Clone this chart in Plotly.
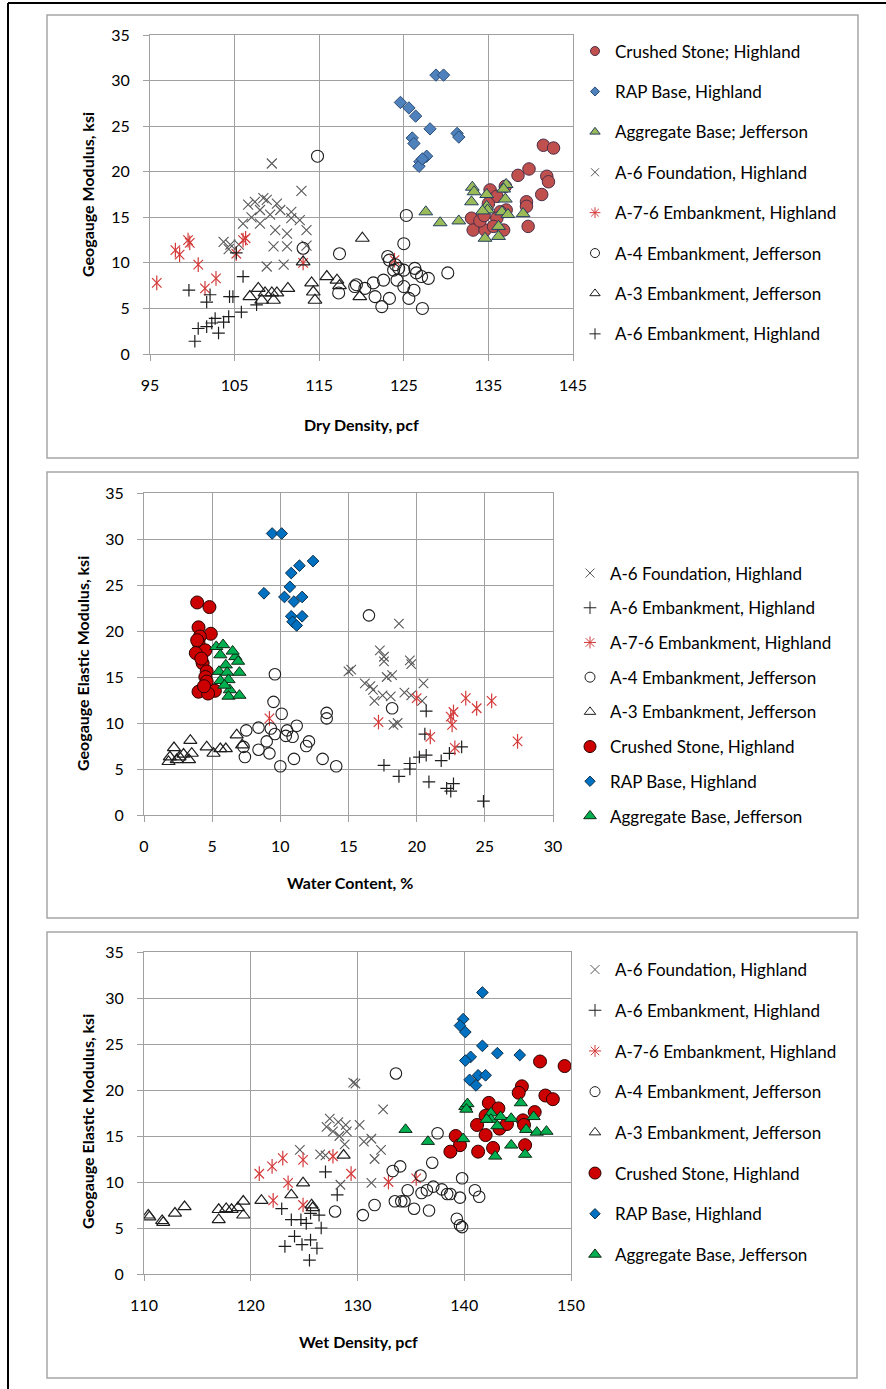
import plotly.graph_objects as go

W, H = 886, 1389
FONT = "Lato"

def fx(px):
    return px / W

def fy(py):
    return 1 - py / H

# ---------------- Panel 1 : Dry Density ----------------
cs1_x = [141.5, 142.7, 138.5, 139.8, 141.9, 142.1, 141.3, 135.2, 137.0, 136.0, 139.5, 139.5, 137.1, 136.4, 133.0, 136.0, 133.2, 134.6, 135.6, 136.8, 139.7, 134.0, 135.0, 134.5]
cs1_y = [22.9, 22.6, 19.6, 20.3, 19.5, 18.9, 17.5, 18.0, 18.4, 17.3, 16.7, 16.2, 15.8, 15.6, 14.9, 14.9, 13.6, 13.6, 14.0, 13.6, 14.0, 14.6, 16.5, 15.2]
rap1_x = [128.8, 129.7, 124.6, 125.6, 126.4, 128.1, 131.3, 131.5, 126.0, 126.2, 127.7, 126.9, 126.8, 127.2]
rap1_y = [30.6, 30.6, 27.6, 27.0, 26.1, 24.7, 24.2, 23.8, 23.7, 23.1, 21.7, 21.1, 20.6, 21.4]
agg1_x = [127.6, 129.3, 131.5, 133.1, 133.3, 133.0, 134.8, 134.8, 134.9, 137.1, 137.0, 136.6, 137.3, 139.1, 136.2, 136.2, 134.6, 134.3, 136.8]
agg1_y = [15.6, 14.4, 14.6, 18.3, 17.8, 16.7, 17.5, 16.2, 15.8, 18.6, 17.0, 15.6, 15.3, 15.4, 14.0, 12.9, 12.7, 15.7, 18.1]
a6f1_x = [109.4, 112.9, 106.6, 107.4, 108.4, 108.8, 108.0, 109.2, 110.4, 111.7, 111.7, 112.7, 113.5, 106.0, 108.0, 109.8, 111.2, 103.7, 104.5, 105.5, 109.6, 111.2, 108.8, 110.8, 113.5, 104.3, 107.0, 110.0]
a6f1_y = [20.9, 17.9, 16.4, 16.7, 17.1, 16.9, 15.8, 15.3, 15.8, 15.6, 14.9, 14.7, 13.6, 14.3, 14.3, 13.6, 13.2, 12.3, 12.0, 12.0, 11.8, 11.8, 9.6, 9.8, 11.9, 11.5, 15.0, 16.5]
a76_1_x = [95.8, 98.0, 98.5, 99.5, 99.7, 100.7, 101.5, 102.8, 105.2, 106.3, 113.1, 106.0, 123.9]
a76_1_y = [7.8, 11.4, 10.9, 12.5, 12.2, 9.8, 7.2, 8.3, 11.0, 12.7, 10.0, 12.5, 10.3]
a4_1_x = [114.8, 113.1, 117.4, 117.3, 119.2, 125.3, 125.0, 123.1, 123.3, 124.4, 123.8, 125.0, 126.3, 126.5, 127.1, 127.9, 130.2, 119.4, 120.4, 121.4, 121.6, 122.4, 123.3, 122.6, 124.2, 125.0, 125.6, 126.2, 127.2, 124.0]
a4_1_y = [21.7, 11.6, 11.0, 6.7, 7.4, 15.2, 12.1, 10.7, 10.3, 9.4, 9.2, 9.2, 9.4, 8.9, 8.5, 8.3, 8.9, 7.6, 7.2, 7.8, 6.3, 5.2, 6.1, 8.1, 8.1, 7.4, 6.1, 7.0, 5.0, 9.8]
a3_1_x = [107.8, 106.8, 108.6, 109.4, 109.6, 110.0, 111.3, 113.1, 114.1, 114.3, 114.5, 115.9, 117.1, 117.4, 120.1, 119.8, 108.2]
a3_1_y = [7.2, 6.3, 6.7, 6.7, 5.9, 6.7, 7.2, 10.1, 7.8, 6.8, 5.9, 8.5, 8.1, 7.5, 12.7, 6.3, 5.9]
a6e1_x = [100.3, 100.7, 101.7, 102.3, 103.1, 102.7, 103.7, 104.3, 105.8, 107.6, 101.7, 102.1, 104.4, 104.8, 99.6, 106.0, 105.2]
a6e1_y = [1.4, 2.8, 3.0, 3.4, 2.3, 3.9, 3.5, 4.1, 4.6, 5.4, 5.7, 6.5, 6.3, 6.3, 7.0, 8.5, 11.1]

# ---------------- Panel 2 : Water Content ----------------
cs2_x = [3.9, 4.8, 4.0, 4.9, 4.1, 4.0, 4.5, 3.8, 4.3, 4.6, 4.5, 4.6, 4.0, 5.2, 4.7, 4.2, 3.9, 4.4]
cs2_y = [23.1, 22.6, 20.4, 19.7, 19.4, 18.7, 17.9, 17.6, 16.5, 15.6, 15.0, 14.5, 13.4, 13.5, 13.2, 17.0, 19.0, 14.0]
rap2_x = [9.4, 10.1, 8.8, 12.4, 11.4, 10.8, 10.7, 10.3, 11.6, 11.0, 10.8, 11.6, 10.9, 11.2]
rap2_y = [30.6, 30.6, 24.1, 27.6, 27.1, 26.3, 24.8, 23.7, 23.7, 23.2, 21.6, 21.6, 21.0, 20.6]
agg2_x = [5.3, 5.8, 5.6, 6.7, 6.9, 6.0, 5.5, 6.1, 7.0, 6.2, 5.6, 6.3, 6.2, 7.0, 6.5, 5.9]
agg2_y = [18.3, 18.5, 17.4, 17.2, 16.7, 16.3, 15.6, 15.5, 15.5, 14.7, 14.6, 13.6, 12.9, 13.0, 17.8, 14.1]
a6f2_x = [18.7, 15.0, 17.3, 17.6, 17.6, 19.5, 19.6, 18.2, 16.2, 16.8, 17.5, 19.1, 19.6, 20.5, 20.4, 18.1, 18.3, 16.9, 15.2, 17.8, 18.6, 16.6]
a6f2_y = [20.8, 15.6, 17.9, 17.2, 16.7, 16.8, 16.4, 15.2, 14.3, 13.6, 13.0, 13.3, 13.0, 14.3, 12.4, 12.9, 9.8, 12.4, 15.8, 15.0, 10.0, 14.0]
a76_2_x = [17.2, 20.0, 21.0, 22.7, 22.6, 22.8, 23.6, 24.4, 25.5, 27.4, 9.2, 22.5]
a76_2_y = [10.1, 12.7, 8.5, 11.2, 9.8, 7.3, 12.7, 11.6, 12.4, 8.0, 10.5, 10.7]
a4_2_x = [9.6, 9.5, 10.1, 13.4, 13.4, 7.5, 8.4, 9.3, 9.6, 10.4, 11.2, 10.9, 12.1, 11.9, 7.3, 7.4, 8.4, 9.2, 10.0, 11.0, 13.1, 14.1, 16.5, 18.2, 10.5, 9.0]
a4_2_y = [15.3, 12.3, 11.0, 11.1, 10.5, 9.2, 9.5, 9.4, 8.8, 8.6, 9.7, 8.5, 8.0, 7.5, 7.4, 6.3, 7.1, 6.7, 5.3, 6.1, 6.1, 5.3, 21.7, 11.6, 9.2, 8.0]
a3_2_x = [2.2, 1.9, 2.4, 2.6, 3.4, 3.5, 3.3, 4.6, 5.1, 5.6, 6.0, 6.8, 7.2, 1.8, 2.9]
a3_2_y = [7.3, 6.3, 6.0, 6.3, 8.1, 6.7, 6.0, 7.4, 6.7, 7.2, 7.2, 8.7, 7.6, 5.8, 6.6]
a6e2_x = [20.7, 20.6, 17.6, 18.7, 19.5, 19.5, 20.2, 20.7, 21.8, 22.4, 23.3, 20.9, 22.2, 22.7, 24.9, 22.5]
a6e2_y = [11.3, 8.8, 5.4, 4.2, 5.6, 5.0, 6.3, 6.5, 5.9, 6.7, 7.4, 3.6, 2.9, 3.4, 1.5, 2.6]

# ---------------- Panel 3 : Wet Density ----------------
cs3_x = [147.1, 149.4, 145.4, 145.1, 147.6, 148.3, 142.3, 143.2, 146.6, 142.0, 145.5, 145.6, 143.3, 141.2, 142.0, 139.2, 139.6, 138.7, 141.3, 142.7, 145.7, 144.0]
cs3_y = [23.1, 22.6, 20.4, 19.7, 19.4, 19.0, 18.6, 18.0, 17.6, 17.2, 16.7, 16.2, 15.8, 16.2, 15.1, 15.0, 14.0, 13.3, 13.3, 13.7, 14.0, 16.3]
agg3_x = [134.5, 136.6, 139.9, 140.1, 140.3, 140.2, 142.5, 142.5, 143.4, 145.3, 146.5, 144.4, 143.1, 142.1, 145.8, 146.8, 147.7, 144.4, 142.9, 145.7]
agg3_y = [15.7, 14.4, 14.7, 18.2, 18.5, 17.9, 17.5, 16.8, 17.1, 18.6, 17.1, 16.9, 16.1, 16.8, 15.7, 15.4, 15.5, 14.0, 12.8, 13.0]
rap3_x = [141.7, 139.9, 139.6, 140.1, 141.7, 143.1, 145.2, 140.6, 140.1, 141.3, 142.0, 140.5, 141.1]
rap3_y = [30.6, 27.7, 27.0, 26.3, 24.8, 24.0, 23.8, 23.6, 23.2, 21.6, 21.6, 21.1, 20.5]
a6f3_x = [129.6, 127.4, 128.2, 128.9, 127.1, 127.7, 128.3, 128.8, 124.6, 127.0, 128.4, 129.8, 132.4, 130.2, 131.3, 132.2, 131.6, 131.3, 130.6, 126.5, 129.0]
a6f3_y = [20.8, 16.9, 16.5, 16.2, 16.0, 15.5, 15.0, 14.1, 13.5, 12.9, 9.7, 20.7, 17.9, 16.2, 14.7, 13.5, 12.5, 9.9, 14.4, 13.0, 15.5]
a76_3_x = [120.8, 122.0, 123.0, 124.9, 123.5, 122.1, 124.9, 127.7, 129.4, 132.9, 135.5]
a76_3_y = [10.9, 11.7, 12.6, 12.4, 9.9, 8.0, 7.5, 12.8, 10.9, 10.0, 10.4]
a4_3_x = [133.6, 137.5, 137.0, 134.0, 133.3, 139.8, 135.9, 136.5, 137.1, 137.9, 138.4, 138.7, 139.6, 141.0, 141.4, 134.4, 134.1, 133.5, 134.7, 135.3, 136.7, 131.6, 130.5, 139.3, 139.6, 139.8, 127.9, 136.0]
a4_3_y = [21.8, 15.3, 12.1, 11.7, 11.2, 10.4, 10.7, 9.1, 9.5, 9.2, 8.7, 8.7, 8.3, 9.1, 8.4, 7.9, 7.9, 7.9, 9.1, 7.1, 6.9, 7.5, 6.4, 6.0, 5.3, 5.1, 6.8, 8.8]
a3_3_x = [110.4, 110.5, 111.7, 112.9, 113.8, 117.0, 117.0, 117.7, 118.2, 118.8, 119.3, 119.3, 121.0, 123.8, 124.9, 125.7, 125.8, 128.7, 111.8]
a3_3_y = [6.4, 6.2, 5.8, 6.6, 7.3, 7.0, 5.9, 7.1, 7.0, 7.2, 7.9, 6.4, 8.0, 8.6, 9.9, 7.5, 7.2, 12.9, 5.6]
a6e3_x = [127.0, 128.1, 122.9, 123.8, 124.7, 125.6, 126.4, 126.6, 124.1, 123.2, 124.8, 125.6, 126.2, 125.5, 125.2]
a6e3_y = [11.1, 8.6, 7.1, 5.9, 5.9, 6.6, 6.4, 5.0, 4.1, 3.0, 3.2, 3.7, 2.8, 1.5, 5.5]

# Axis ticks / labels
x1_ticks = [95, 105, 115, 125, 135, 145]
x2_ticks = [0, 5, 10, 15, 20, 25, 30]
x3_ticks = [110, 120, 130, 140, 150]
y_ticks = [0, 5, 10, 15, 20, 25, 30, 35]

names_p1 = ["Crushed Stone; Highland", "RAP Base, Highland", "Aggregate Base; Jefferson",
            "A-6 Foundation, Highland", "A-7-6 Embankment, Highland", "A-4 Embankment, Jefferson",
            "A-3 Embankment, Jefferson", "A-6 Embankment, Highland"]
names_p23 = ["A-6 Foundation, Highland", "A-6 Embankment, Highland", "A-7-6 Embankment, Highland",
             "A-4 Embankment, Jefferson", "A-3 Embankment, Jefferson", "Crushed Stone, Highland",
             "RAP Base, Highland", "Aggregate Base, Jefferson"]

GREY_X = "#595959"
RED_AST = "#D43A3A"
BLACK = "#1E1E1E"

fig = go.Figure()

def add_pts(x, y, xa, ya, symbol, size, color, lcolor=None, lw=1.0):
    fig.add_trace(go.Scatter(
        x=x, y=y, mode="markers", xaxis=xa, yaxis=ya, showlegend=False, hoverinfo="skip",
        marker=dict(symbol=symbol, size=size, color=color,
                    line=dict(color=lcolor if lcolor else color, width=lw))))

def add_leg(name, legend, symbol, size, color, lcolor=None, lw=1.0, xa="x", ya="y"):
    fig.add_trace(go.Scatter(
        x=[None], y=[None], mode="markers", xaxis=xa, yaxis=ya, name=name,
        legend=legend, legendgroup=legend + name, showlegend=True,
        marker=dict(symbol=symbol, size=size, color=color,
                    line=dict(color=lcolor if lcolor else color, width=lw))))

def add_asterisk(x, y, xa, ya, size):
    add_pts(x, y, xa, ya, "x-thin-open", size, RED_AST, lw=1.2)
    add_pts(x, y, xa, ya, "line-ns-open", size + 1, RED_AST, lw=1.2)

# ---- Panel 1 traces (series order) ----
add_pts(cs1_x, cs1_y, "x", "y", "circle", 12.5, "#C0504D", "#4A2F48", 1)
add_pts(rap1_x, rap1_y, "x", "y", "diamond", 9.5, "#4F81BD", "#2C4D75", 1)
add_pts(agg1_x, agg1_y, "x", "y", "triangle-up", 12, "#9BBB59", "#243F60", 1)
add_pts(a6f1_x, a6f1_y, "x", "y", "x-thin-open", 10, GREY_X, lw=1.1)
add_asterisk(a76_1_x, a76_1_y, "x", "y", 9.5)
add_pts(a4_1_x, a4_1_y, "x", "y", "circle-open", 12, BLACK, lw=1.1)
add_pts(a3_1_x, a3_1_y, "x", "y", "triangle-up-open", 12, BLACK, lw=1.2)
add_pts(a6e1_x, a6e1_y, "x", "y", "cross-thin-open", 9, BLACK, lw=1.2)

# ---- Panel 2 traces ----
add_pts(a6f2_x, a6f2_y, "x2", "y2", "x-thin-open", 9.5, GREY_X, lw=1.1)
add_pts(a6e2_x, a6e2_y, "x2", "y2", "cross-thin-open", 9, BLACK, lw=1.2)
add_asterisk(a76_2_x, a76_2_y, "x2", "y2", 9.5)
add_pts(a4_2_x, a4_2_y, "x2", "y2", "circle-open", 11.5, BLACK, lw=1.1)
add_pts(a3_2_x, a3_2_y, "x2", "y2", "triangle-up-open", 11.5, BLACK, lw=1.2)
add_pts(cs2_x, cs2_y, "x2", "y2", "circle", 13, "#CC0000", "#2A0000", 1)
add_pts(rap2_x, rap2_y, "x2", "y2", "diamond", 9, "#0070C0", "#10304A", 1)
add_pts(agg2_x, agg2_y, "x2", "y2", "triangle-up", 11.5, "#00B050", "#0F2A15", 1)

# ---- Panel 3 traces ----
add_pts(a6f3_x, a6f3_y, "x3", "y3", "x-thin-open", 9.5, GREY_X, lw=1.1)
add_pts(a6e3_x, a6e3_y, "x3", "y3", "cross-thin-open", 9, BLACK, lw=1.2)
add_asterisk(a76_3_x, a76_3_y, "x3", "y3", 9.5)
add_pts(a4_3_x, a4_3_y, "x3", "y3", "circle-open", 11.5, BLACK, lw=1.1)
add_pts(a3_3_x, a3_3_y, "x3", "y3", "triangle-up-open", 11.5, BLACK, lw=1.2)
add_pts(cs3_x, cs3_y, "x3", "y3", "circle", 13, "#CC0000", "#2A0000", 1)
add_pts(rap3_x, rap3_y, "x3", "y3", "diamond", 9, "#0070C0", "#10304A", 1)
add_pts(agg3_x, agg3_y, "x3", "y3", "triangle-up", 11.5, "#00B050", "#0F2A15", 1)

# ---- Legend entries ----
leg1_style = [("circle", 9, "#C0504D", "#4A2F48"), ("diamond", 7, "#4F81BD", "#2C4D75"),
              ("triangle-up", 9, "#9BBB59", "#243F60"), ("x-thin-open", 8, GREY_X, None),
              ("asterisk-open", 9, RED_AST, None), ("circle-open", 9, BLACK, None),
              ("triangle-up-open", 9, BLACK, None), ("cross-thin-open", 8, BLACK, None)]
for nm, (sym, sz, col, lc) in zip(names_p1, leg1_style):
    add_leg(nm, "legend", sym, sz, col, lc, 1, "x", "y")

leg23_style = [("x-thin-open", 9, GREY_X, None), ("cross-thin-open", 9, BLACK, None),
               ("asterisk-open", 10, RED_AST, None), ("circle-open", 10, BLACK, None),
               ("triangle-up-open", 10, BLACK, None), ("circle", 12, "#CC0000", "#2A0000"),
               ("diamond", 8, "#0070C0", "#10304A"), ("triangle-up", 11, "#00B050", "#0F2A15")]
for nm, (sym, sz, col, lc) in zip(names_p23, leg23_style):
    add_leg(nm, "legend2", sym, sz, col, lc, 1, "x2", "y2")
for nm, (sym, sz, col, lc) in zip(names_p23, leg23_style):
    add_leg(nm, "legend3", sym, sz, col, lc, 1, "x3", "y3")

GRID = "#A0A0A0"
tickfont = dict(family=FONT, size=16, color="black")

def xax(dom, rng, ticks, anchor):
    return dict(domain=dom, range=rng, tickvals=ticks, ticktext=[str(t) for t in ticks],
                anchor=anchor, showgrid=True, gridcolor=GRID, gridwidth=1, zeroline=False,
                showline=True, linecolor=GRID, linewidth=1, mirror=True, automargin=False,
                ticks="outside", ticklen=6, tickcolor=GRID, tickwidth=1,
                ticklabelstandoff=11, tickfont=tickfont, fixedrange=True)

def yax(dom, anchor):
    return dict(domain=dom, range=[0, 35], tickvals=y_ticks, ticktext=[str(t) for t in y_ticks],
                anchor=anchor, showgrid=True, gridcolor=GRID, gridwidth=1, zeroline=False,
                showline=True, linecolor=GRID, linewidth=1, mirror=True, automargin=False,
                ticks="outside", ticklen=6, tickcolor=GRID, tickwidth=1,
                ticklabelstandoff=10, tickfont=tickfont, fixedrange=True)

legfont = dict(family=FONT, size=17, color="black")

def legend(xp, yp, gap):
    return dict(x=fx(xp), y=fy(yp), xanchor="left", yanchor="top", font=legfont,
                tracegroupgap=gap, traceorder="grouped", bgcolor="rgba(0,0,0,0)",
                borderwidth=0, itemsizing="trace")

title_font = dict(family=FONT, size=16, color="black", weight="bold")
annotations = [
    dict(text="<b>Dry Density, pcf</b>", x=fx(361), y=fy(424), xref="paper", yref="paper",
         showarrow=False, font=title_font, xanchor="center", yanchor="middle"),
    dict(text="<b>Water Content, %</b>", x=fx(350), y=fy(882), xref="paper", yref="paper",
         showarrow=False, font=title_font, xanchor="center", yanchor="middle"),
    dict(text="<b>Wet Density, pcf</b>", x=fx(358), y=fy(1341), xref="paper", yref="paper",
         showarrow=False, font=title_font, xanchor="center", yanchor="middle"),
    dict(text="<b>Geogauge Modulus, ksi</b>", x=fx(87), y=fy(195), xref="paper", yref="paper",
         showarrow=False, font=title_font, textangle=-90, xanchor="center", yanchor="middle"),
    dict(text="<b>Geogauge Elastic Modulus, ksi</b>", x=fx(82), y=fy(664), xref="paper", yref="paper",
         showarrow=False, font=title_font, textangle=-90, xanchor="center", yanchor="middle"),
    dict(text="<b>Geogauge Elastic Modulus, ksi</b>", x=fx(87), y=fy(1122), xref="paper", yref="paper",
         showarrow=False, font=title_font, textangle=-90, xanchor="center", yanchor="middle"),
]

def box(x0, y0, x1, y1, color, width):
    return dict(type="rect", xref="paper", yref="paper", x0=fx(x0), x1=fx(x1), y0=fy(y1), y1=fy(y0),
                line=dict(color=color, width=width), fillcolor="rgba(0,0,0,0)", layer="below")

shapes = [
    box(47, 15, 858, 458, "#A6A6A6", 1.5),
    box(47, 472, 858, 918, "#A6A6A6", 1.5),
    box(47, 932, 857, 1378, "#A6A6A6", 1.5),
    dict(type="line", xref="paper", yref="paper", x0=fx(8), x1=fx(8), y0=0, y1=fy(3),
         line=dict(color="black", width=2)),
    dict(type="line", xref="paper", yref="paper", x0=fx(8), x1=1, y0=fy(3), y1=fy(3),
         line=dict(color="black", width=2)),
]

fig.update_layout(
    width=W, height=H, autosize=False,
    margin=dict(l=0, r=0, t=0, b=0, pad=0, autoexpand=False),
    paper_bgcolor="white", plot_bgcolor="white",
    font=dict(family=FONT, color="black"),
    xaxis=xax([fx(150), fx(573)], [95, 145], x1_ticks, "y"),
    yaxis=yax([fy(354), fy(35)], "x"),
    xaxis2=xax([fx(144), fx(553)], [0, 30], x2_ticks, "y2"),
    yaxis2=yax([fy(815), fy(493)], "x2"),
    xaxis3=xax([fx(144), fx(571)], [110, 150], x3_ticks, "y3"),
    yaxis3=yax([fy(1274), fy(952)], "x3"),
    legend=legend(575, 33.5, 15.3),
    legend2=legend(570, 555.5, 9.6),
    legend3=legend(575, 952, 15.6),
    annotations=annotations,
    shapes=shapes,
)

fig.write_html("out.html")
